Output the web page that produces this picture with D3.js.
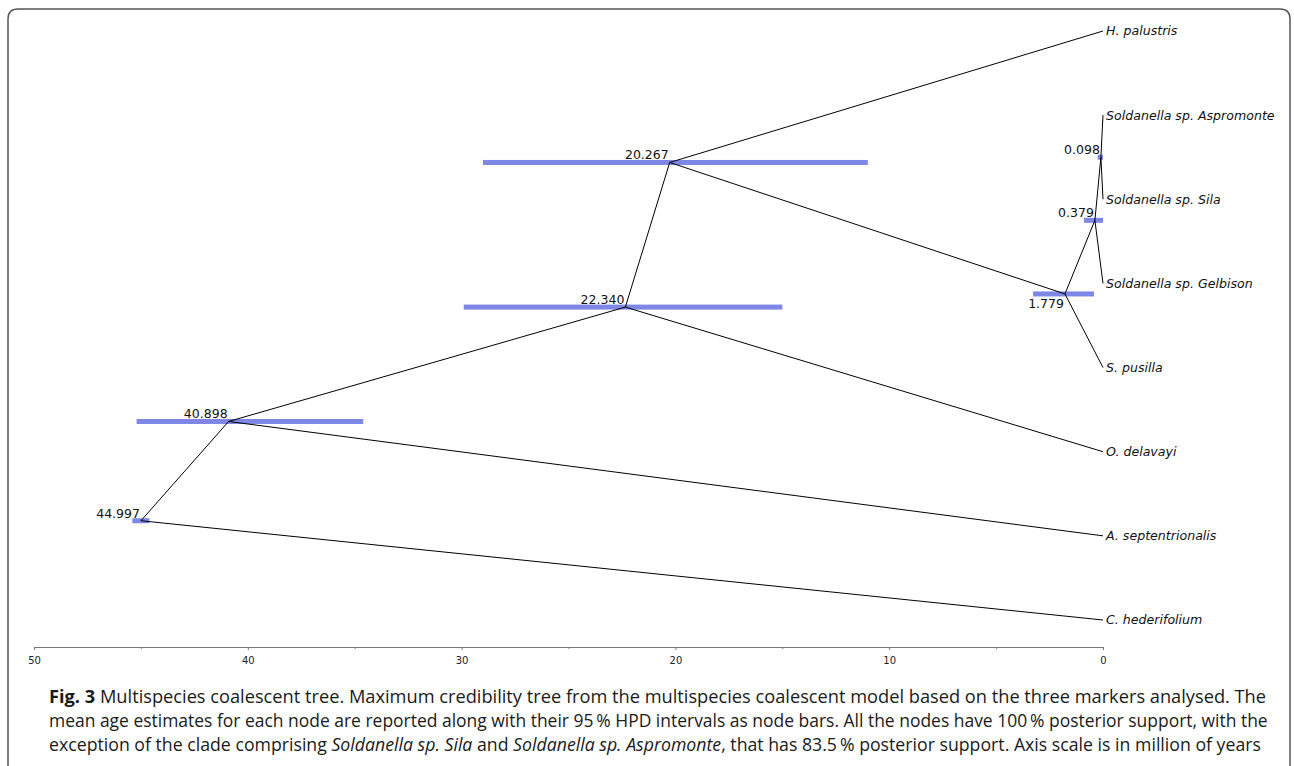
<!DOCTYPE html>
<html><head><meta charset="utf-8">
<script src="https://cdn.jsdelivr.net/npm/d3@7"></script>
<style>body{margin:0;background:#fff}svg{display:block}</style>
</head><body>
<svg id="c" width="1294" height="766"></svg>
<script>
// ---- data ----
const taxa = ["H. palustris","Soldanella sp. Aspromonte","Soldanella sp. Sila","Soldanella sp. Gelbison","S. pusilla","O. delavayi","A. septentrionalis","C. hederifolium"];
const nodeIds = ["n0","n1","n2","n3","n4","n5","n6"];
const nodeAges = [0.098, 0.379, 1.779, 20.267, 22.340, 40.898, 44.997];
const nodeLabels = ["0.098","0.379","1.779","20.267","22.340","40.898","44.997"];
const hpdLow  = [0.0, 0.0, 0.42, 11.0, 15.0, 34.6, 44.6];
const hpdHigh = [0.25, 0.89, 3.27, 29.0, 29.9, 45.2, 45.4];
const nodeChildren = [
  ["Soldanella sp. Aspromonte","Soldanella sp. Sila"],
  ["n0","Soldanella sp. Gelbison"],
  ["n1","S. pusilla"],
  ["H. palustris","n2"],
  ["n3","O. delavayi"],
  ["n4","A. septentrionalis"],
  ["n5","C. hederifolium"]
];
const majorTicks = [50,40,30,20,10,0];
const minorTicks = [45,35,25,15,5];
const captionLines = [
  [["Fig. 3","b"],[" Multispecies coalescent tree. Maximum credibility tree from the multispecies coalescent model based on the three markers analysed. The",""]],
  [["mean age estimates for each node are reported along with their 95\u2009% HPD intervals as node bars. All the nodes have 100\u2009% posterior support, with the",""]],
  [["exception of the clade comprising ",""],["Soldanella sp. Sila","i"],[" and ",""],["Soldanella sp. Aspromonte","i"],[", that has 83.5\u2009% posterior support. Axis scale is in million of years",""]]
];

// ---- drawing ----
const svg = d3.select("#c");
const x = d3.scaleLinear().domain([50,0]).range([34,1103]);
const y = d3.scaleLinear().domain([0,taxa.length-1]).range([31,620]);

// border
svg.append("path")
  .attr("d","M8,770 V19 Q8,9 18,9 H1280 Q1290,9 1290,19 V770")
  .attr("fill","none").attr("stroke","#555").attr("stroke-width",1.5);

// positions
const pos = {};
taxa.forEach((t,i)=>{ pos[t] = {x:x(0), y:y(i)}; });
nodeIds.forEach((id,i)=>{
  const ch = nodeChildren[i].map(c=>pos[c]);
  pos[id] = {x:x(nodeAges[i]), y:d3.mean(ch,d=>d.y)};
});

// HPD bars
svg.append("g").selectAll("rect").data(nodeIds).join("rect")
  .attr("x",(d,i)=>x(hpdHigh[i]))
  .attr("width",(d,i)=>x(hpdLow[i])-x(hpdHigh[i]))
  .attr("y",d=>pos[d].y-2.5).attr("height",5)
  .attr("fill","rgb(126,134,230)");

// edges
const edges = [];
nodeIds.forEach((id,i)=>nodeChildren[i].forEach(c=>edges.push([id,c])));
svg.append("g").selectAll("line").data(edges).join("line")
  .attr("x1",d=>pos[d[0]].x).attr("y1",d=>pos[d[0]].y)
  .attr("x2",d=>pos[d[1]].x).attr("y2",d=>pos[d[1]].y)
  .attr("stroke","#000").attr("stroke-width",1);

// node labels
const below = new Set(["n2"]);
svg.append("g").selectAll("text").data(nodeIds).join("text")
  .attr("x",d=>pos[d].x-1)
  .attr("y",d=>below.has(d)? pos[d].y+14 : pos[d].y-3)
  .attr("text-anchor","end")
  .attr("font-family","DejaVu Sans").attr("font-size",12.5).attr("fill","#111")
  .text((d,i)=>nodeLabels[i]);

// leaf labels
svg.append("g").selectAll("text").data(taxa).join("text")
  .attr("x",d=>pos[d].x+3).attr("y",d=>pos[d].y)
  .attr("dy","0.35em")
  .attr("font-family","DejaVu Sans").attr("font-style","italic")
  .attr("font-size",12.6).attr("fill","#111")
  .text(d=>d);

// axis
const ay = 647;
const gAx = svg.append("g").attr("transform",`translate(0,${ay})`)
  .call(d3.axisBottom(x).tickValues(majorTicks).tickSize(3).tickSizeOuter(0).tickFormat(d3.format("d")));
gAx.select(".domain").attr("stroke","#777");
gAx.selectAll(".tick line").attr("stroke","#777");
gAx.selectAll(".tick text").attr("font-family","DejaVu Sans").attr("font-size",10).attr("fill","#222").attr("dy","1.05em");
const gMin = svg.append("g").attr("transform",`translate(0,${ay})`)
  .call(d3.axisBottom(x).tickValues(minorTicks).tickSize(2).tickSizeOuter(0).tickFormat(""));
gMin.select(".domain").remove();
gMin.selectAll(".tick line").attr("stroke","#777");

// caption
const capBase = [703,727,751];
const capEnd = [1267,1269,1262];
captionLines.forEach((parts,li)=>{
  const g = svg.append("g").attr("transform",`translate(49,${capBase[li]})`);
  const t = g.append("text").attr("x",0).attr("y",0)
    .attr("font-family","Open Sans").attr("font-size",17.5).attr("fill","#1a1a1a");
  parts.forEach(p=>{
    const s = t.append("tspan").text(p[0]);
    if(p[1]==="b") s.attr("font-weight","bold");
    if(p[1]==="i") s.attr("font-style","italic");
  });
  const w = t.node().getComputedTextLength();
  const sx = (capEnd[li]-49)/w;
  g.attr("transform",`translate(49,${capBase[li]}) scale(${sx},1)`);
});
</script>
</body></html>
